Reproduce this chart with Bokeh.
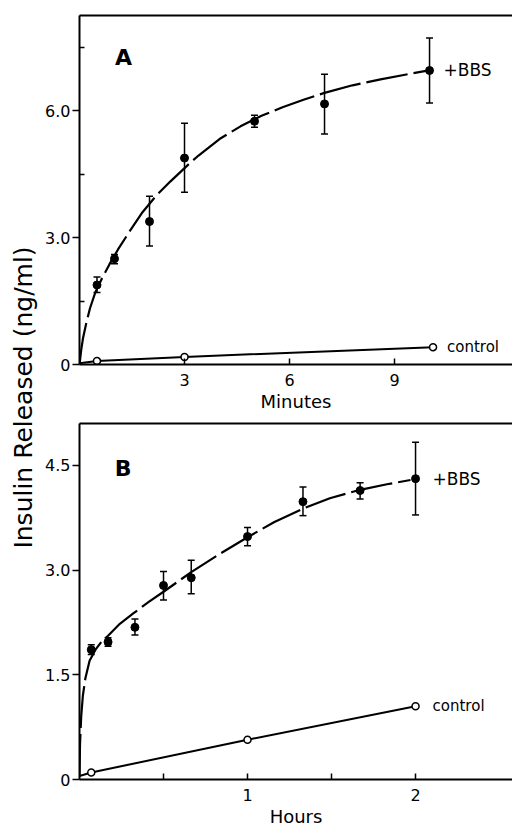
import math
from bokeh.plotting import figure
from bokeh.layouts import row, column
from bokeh.models import (Range1d, LinearAxis, FixedTicker, Whisker, TeeHead,
                          ColumnDataSource)
from bokeh.core.properties import value
from bokeh.embed import file_html
from bokeh.resources import INLINE

FONT = "DejaVu Sans"

# ---------------- Panel A (minutes) ----------------
a_bbs_x = [0.5, 1, 2, 3, 5, 7, 10]
a_bbs_y = [1.88, 2.50, 3.38, 4.88, 5.75, 6.16, 6.95]
a_bbs_upper = [2.07, 2.60, 3.98, 5.70, 5.89, 6.86, 7.72]
a_bbs_lower = [1.70, 2.38, 2.80, 4.07, 5.61, 5.45, 6.18]
a_fit_x = [0, 0.05, 0.1, 0.2, 0.3, 0.45, 0.65, 0.85, 1.1, 1.45, 1.8, 2.2, 2.6,
           3.1, 3.4, 4.0, 4.6, 5.2, 5.8, 6.4, 7.0, 7.8, 8.6, 9.3, 9.9]
a_fit_y = [0, 0.35, 0.62, 1.0, 1.33, 1.70, 2.05, 2.36, 2.72, 3.17, 3.60, 4.00,
           4.33, 4.72, 4.94, 5.33, 5.63, 5.88, 6.08, 6.26, 6.42, 6.60, 6.74,
           6.85, 6.94]
a_ctrl_x = [0.5, 3, 10.1]
a_ctrl_y = [0.08, 0.18, 0.41]
a_ctrl_line_x = [0, 0.5, 3, 10.1]
a_ctrl_line_y = [0.03, 0.08, 0.18, 0.41]
a_xticks = [3, 6, 9]
a_yticks = [0, 3, 6]
a_yminor = [1.5, 4.5, 7.5]
a_ylabels = {0: "0", 3: "3.0", 6: "6.0"}

# ---------------- Panel B (hours) ----------------
b_bbs_x = [0.07, 0.17, 0.33, 0.5, 0.665, 1.0, 1.33, 1.67, 2.0]
b_bbs_y = [1.86, 1.97, 2.18, 2.78, 2.89, 3.48, 3.98, 4.14, 4.31]
b_bbs_upper = [1.93, 2.03, 2.30, 2.98, 3.14, 3.61, 4.19, 4.25, 4.83]
b_bbs_lower = [1.79, 1.91, 2.07, 2.57, 2.66, 3.35, 3.78, 4.02, 3.79]
b_fit_x = [0, 0.003, 0.01, 0.02, 0.035, 0.06, 0.095, 0.13, 0.17, 0.24, 0.32,
           0.41, 0.5, 0.665, 0.84, 1.0, 1.16, 1.33, 1.49, 1.67, 1.83, 1.97]
b_fit_y = [0.05, 0.5, 0.9, 1.2, 1.45, 1.70, 1.86, 1.97, 2.06, 2.23, 2.38,
           2.54, 2.69, 2.97, 3.24, 3.47, 3.69, 3.88, 4.03, 4.15, 4.23, 4.29]
b_ctrl_x = [0.07, 1.0, 2.0]
b_ctrl_y = [0.10, 0.57, 1.05]
b_ctrl_line_x = [0, 0.07, 1.0, 2.0]
b_ctrl_line_y = [0.05, 0.10, 0.57, 1.05]
b_xticks = [1, 2]
b_xminor = [0.5, 1.5]
b_yticks = [0, 1.5, 3, 4.5]
b_ylabels = {0: "0", 1.5: "1.5", 3: "3.0", 4.5: "4.5"}

Y_TITLE = "Insulin Released (ng/ml)"


def style_axes(p, xticker, yticker, xlabels, ylabels, xlabel, x_minor_in):
    p.xgrid.visible = False
    p.ygrid.visible = False
    p.outline_line_color = None
    p.background_fill_color = "white"
    p.border_fill_color = "white"

    xa = p.xaxis[0]
    xa.ticker = xticker
    xa.major_label_overrides = xlabels
    xa.axis_line_width = 2
    xa.axis_line_color = "black"
    xa.major_tick_in = 6
    xa.major_tick_out = 0
    xa.minor_tick_in = x_minor_in
    xa.minor_tick_out = 0
    xa.major_tick_line_width = 1.5
    xa.minor_tick_line_width = 1.5
    xa.major_label_standoff = 9
    xa.major_label_text_font = FONT
    xa.major_label_text_font_size = "16px"
    xa.major_label_text_color = "black"
    xa.axis_label = xlabel
    xa.axis_label_standoff = 2
    xa.axis_label_text_font = FONT
    xa.axis_label_text_font_size = "18px"
    xa.axis_label_text_font_style = "normal"
    xa.axis_label_text_color = "black"

    ya = p.yaxis[0]
    ya.ticker = yticker
    ya.major_label_overrides = ylabels
    ya.axis_line_width = 2
    ya.axis_line_color = "black"
    ya.major_tick_in = 0
    ya.major_tick_out = 7
    ya.minor_tick_in = 5
    ya.minor_tick_out = 0
    ya.major_tick_line_width = 1.5
    ya.minor_tick_line_width = 1.5
    ya.major_label_standoff = 2
    ya.major_label_text_font = FONT
    ya.major_label_text_font_size = "16px"
    ya.major_label_text_color = "black"

    top = LinearAxis(ticker=FixedTicker(ticks=[]), axis_line_width=2,
                     axis_line_color="black", major_tick_line_color=None,
                     minor_tick_line_color=None,
                     major_label_text_font_size="0px")
    p.add_layout(top, "above")


def draw_panel(p, bx, by, bup, blo, fx, fy, cx, cy, clx, cly, letter, lx, ly,
               txt_off):
    p.line(fx, fy, line_color="black", line_width=2.2, line_dash="42 6",
           line_join="round")
    src = ColumnDataSource(dict(x=bx, upper=bup, lower=blo))
    p.add_layout(Whisker(source=src, base="x", upper="upper", lower="lower",
                         dimension="height", line_color="black", line_width=1.5,
                         upper_head=TeeHead(size=7, line_width=1.5,
                                            line_color="black"),
                         lower_head=TeeHead(size=7, line_width=1.5,
                                            line_color="black")))
    p.scatter(bx, by, size=8, marker="circle", fill_color="black",
              line_color="black")
    p.line(clx, cly, line_color="black", line_width=2)
    p.scatter(cx, cy, size=7, marker="circle", fill_color="white",
              line_color="black", line_width=1.5)
    p.text(x=[bx[-1]], y=[by[-1]], text=["+BBS"], x_offset=txt_off,
           text_align="left", text_baseline="middle",
           text_font=value(FONT), text_font_size="17px", text_color="black")
    p.text(x=[cx[-1]], y=[cy[-1]], text=["control"], x_offset=txt_off,
           text_align="left", text_baseline="middle",
           text_font=value(FONT), text_font_size="15px", text_color="black")
    p.text(x=[lx], y=[ly], text=[letter], text_align="center",
           text_baseline="alphabetic", text_font=value(FONT),
           text_font_size="22px", text_font_style="bold", text_color="black")


# ---------------- figures ----------------
pa = figure(width=472, height=415, x_range=Range1d(0, 12.37),
            y_range=Range1d(0, 8.25), toolbar_location=None,
            output_backend="svg", min_border_left=39, min_border_right=0,
            min_border_top=15, min_border_bottom=51)
style_axes(pa, FixedTicker(ticks=a_xticks),
           FixedTicker(ticks=a_yticks, minor_ticks=a_yminor),
           {3: "3", 6: "6", 9: "9"}, a_ylabels, "Minutes", 0)
draw_panel(pa, a_bbs_x, a_bbs_y, a_bbs_upper, a_bbs_lower, a_fit_x, a_fit_y,
           a_ctrl_x, a_ctrl_y, a_ctrl_line_x, a_ctrl_line_y, "A", 1.26, 7.25, 14)

pb = figure(width=472, height=414, x_range=Range1d(0, 2.577),
            y_range=Range1d(0, 5.1), toolbar_location=None,
            output_backend="svg", min_border_left=39, min_border_right=0,
            min_border_top=8, min_border_bottom=49)
style_axes(pb, FixedTicker(ticks=b_xticks, minor_ticks=b_xminor),
           FixedTicker(ticks=b_yticks),
           {1: "1", 2: "2"}, b_ylabels, "Hours", 6)
pb.xaxis[0].major_label_standoff = 10
pb.xaxis[0].axis_label_standoff = 0
draw_panel(pb, b_bbs_x, b_bbs_y, b_bbs_upper, b_bbs_lower, b_fit_x, b_fit_y,
           b_ctrl_x, b_ctrl_y, b_ctrl_line_x, b_ctrl_line_y, "B", 0.259, 4.45, 17)

pl = figure(width=40, height=829, x_range=Range1d(0, 40),
            y_range=Range1d(0, 829), toolbar_location=None,
            output_backend="svg", x_axis_type=None, y_axis_type=None,
            min_border=0)
pl.xgrid.visible = False
pl.ygrid.visible = False
pl.outline_line_color = None
pl.text(x=[23], y=[432], text=[Y_TITLE], angle=math.pi / 2,
        text_align="center", text_baseline="middle", text_font=value(FONT),
        text_font_size="25px", text_color="black")

layout = row(pl, column(pa, pb))
open("out.html", "w").write(file_html(layout, INLINE))
